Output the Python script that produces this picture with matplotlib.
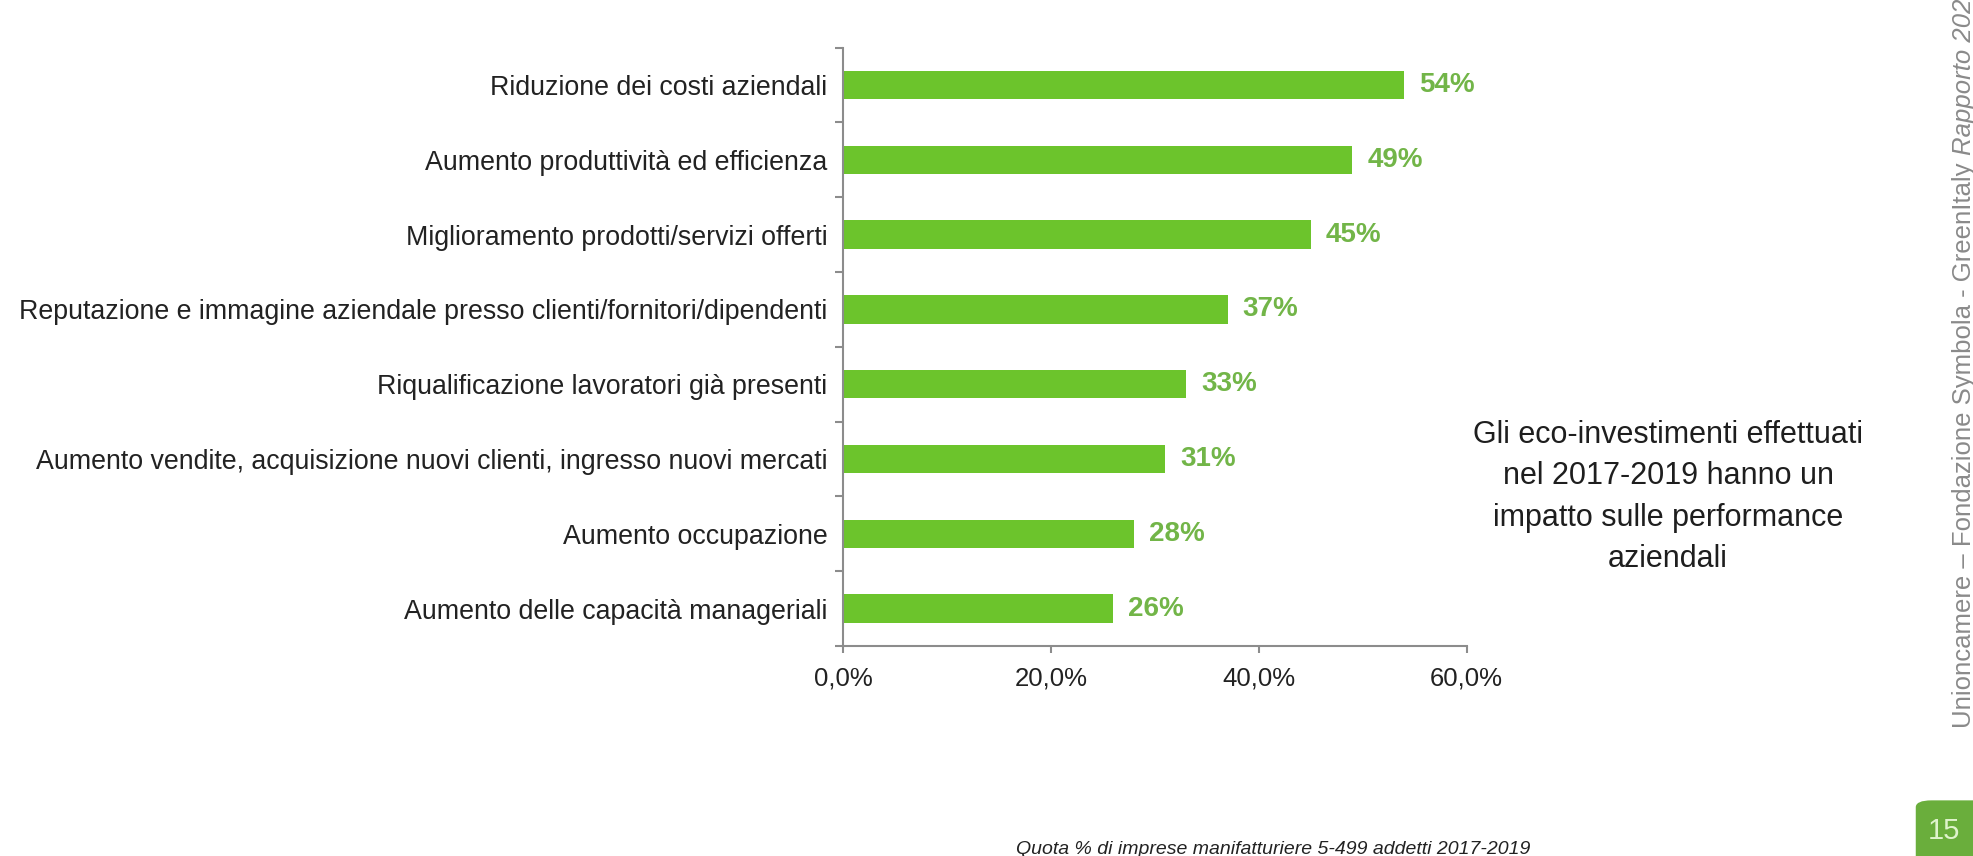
import numpy as np
import matplotlib
matplotlib.use("Agg")
import matplotlib.pyplot as plt
from matplotlib.patches import FancyBboxPatch

plt.rcParams['font.family'] = ['Liberation Sans', 'DejaVu Sans']

# data
categories = [
    "Riduzione dei costi aziendali",
    "Aumento produttività ed efficienza",
    "Miglioramento prodotti/servizi offerti",
    "Reputazione e immagine aziendale presso clienti/fornitori/dipendenti",
    "Riqualificazione lavoratori già presenti",
    "Aumento vendite, acquisizione nuovi clienti, ingresso nuovi mercati",
    "Aumento occupazione",
    "Aumento delle capacità manageriali",
]
values = [54, 49, 45, 37, 33, 31, 28, 26]
xticks = [0, 20, 40, 60]
xtick_labels = ["0,0%", "20,0%", "40,0%", "60,0%"]

bar_green = "#6cc42c"
label_green = "#72b548"
axis_grey = "#8c8c8c"

fig = plt.figure(figsize=(19.74, 8.56), dpi=100)
fig.patch.set_facecolor("white")
ax = fig.add_axes([0.427, 0.2453, 0.316, 0.6992])

ypos = np.arange(len(categories))
bars = ax.barh(ypos, values, height=0.38, color=bar_green)
ax.bar_label(bars, labels=[f"{v}%" for v in values], padding=11,
             color=label_green, fontsize=20, fontweight="bold")

ax.set_xlim(0, 60)
ax.set_ylim(len(categories) - 0.5, -0.5)

ax.set_xticks(xticks)
ax.set_xticklabels(xtick_labels)
ax.set_yticks(ypos)
ax.set_yticklabels(categories)
ax.set_yticks(np.arange(-0.5, len(categories)), minor=True)
ax.tick_params(axis="y", which="major", length=0, pad=11, labelsize=19.3, labelcolor="#222222")
ax.tick_params(axis="y", which="minor", length=5.5, width=1.5, color=axis_grey)
ax.tick_params(axis="x", length=5, width=1.5, color=axis_grey, pad=10, labelsize=18.5, labelcolor="#222222")

for side in ["top", "right"]:
    ax.spines[side].set_visible(False)
for side in ["left", "bottom"]:
    ax.spines[side].set_color(axis_grey)
    ax.spines[side].set_linewidth(1.5)

# side note
fig.text(0.845, 0.4195,
         "Gli eco-investimenti effettuati\nnel 2017-2019 hanno un\nimpatto sulle performance\naziendali",
         ha="center", va="center", fontsize=22, color="#1e1e1e", linespacing=1.5)

# footnote, cut by the bottom edge as in the slide
fig.text(0.645, 0.008, "Quota % di imprese manifatturiere 5-499 addetti 2017-2019",
         ha="center", va="center", fontsize=14, style="italic", color="#222222")

# page number box
box = FancyBboxPatch((0.9705, -0.05), 0.05, 0.115, boxstyle="round,pad=0,rounding_size=0.008",
                     transform=fig.transFigure, facecolor="#6aae3c", edgecolor="none")
fig.patches.append(box)
fig.text(0.985, 0.029, "15", ha="center", va="center", fontsize=21, color="#dff3cc")

# vertical source line on the right
src1 = fig.text(0.9985, 0.15, "Unioncamere – Fondazione Symbola - GreenItaly ", rotation=90,
                rotation_mode="anchor", ha="left", va="baseline", fontsize=18.5, color="#8a8a8a")
fig.canvas.draw()
bb = src1.get_window_extent().transformed(fig.transFigure.inverted())
fig.text(0.9985, bb.y1, "Rapporto 2020", rotation=90, rotation_mode="anchor",
         ha="left", va="baseline", fontsize=18.5, style="italic", color="#8a8a8a")

fig.savefig("out.png", dpi=100, facecolor="white")
